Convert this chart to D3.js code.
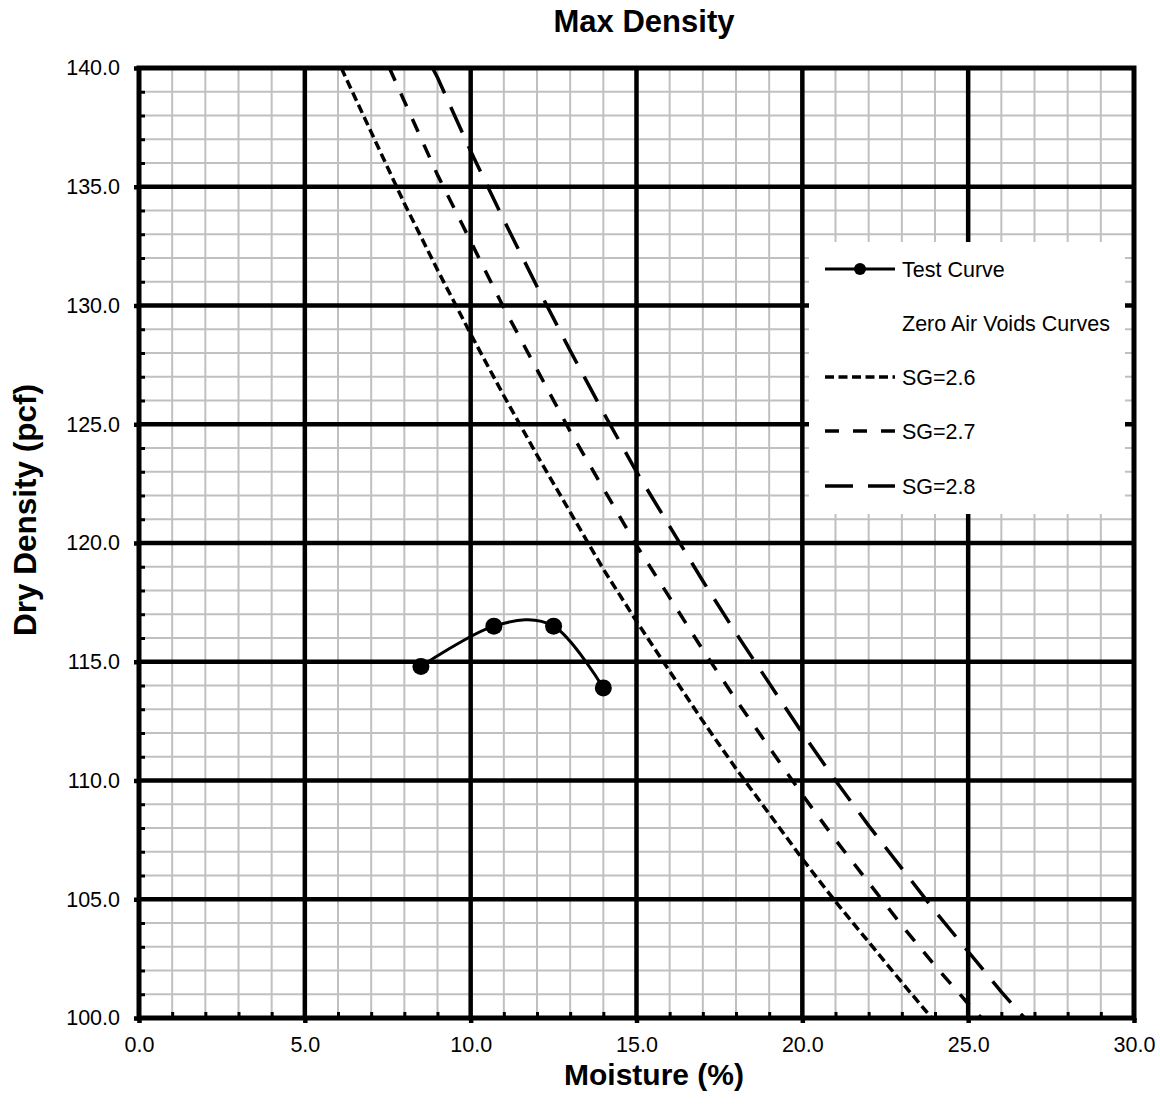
<!DOCTYPE html>
<html>
<head>
<meta charset="utf-8">
<script src="https://cdn.jsdelivr.net/npm/d3@7"></script>
<style>
  html, body { margin: 0; padding: 0; background: #fff; }
  svg { display: block; font-family: "Liberation Sans", Arial, sans-serif; }
</style>
</head>
<body>
<svg id="chart" width="1160" height="1109"></svg>
<script>
// Axis ticks
const xMajorTicks = [0, 5, 10, 15, 20, 25, 30];
const yMajorTicks = [100, 105, 110, 115, 120, 125, 130, 135, 140];

// Compaction test points (moisture %, dry density pcf)
const testMoisture = [8.5, 10.7, 12.5, 14.0];
const testDensity  = [114.8, 116.5, 116.5, 113.9];

// Zero air voids curves
const sg26Moisture = [6.1, 7, 8, 9, 10, 11, 12, 13, 14, 15, 16, 17, 18, 19, 20, 21, 22, 23, 23.9];
const sg26Density  = [140.0, 137.3, 134.3, 131.5, 128.8, 126.2, 123.7, 121.3, 118.9, 116.7, 114.6, 112.5, 110.5, 108.6, 106.7, 104.9, 103.2, 101.5, 100.0];

const sg27Moisture = [7.55, 8, 9, 10, 11, 12, 13, 14, 15, 16, 17, 18, 19, 20, 21, 22, 23, 24, 25, 25.4];
const sg27Density  = [140.0, 138.6, 135.5, 132.7, 129.9, 127.3, 124.7, 122.3, 119.9, 117.7, 115.5, 113.4, 111.4, 109.4, 107.5, 105.7, 103.9, 102.2, 100.6, 100.0];

const sg28Moisture = [8.85, 9, 10, 11, 12, 13, 14, 15, 16, 17, 18, 19, 20, 21, 22, 23, 24, 25, 26, 26.7];
const sg28Density  = [140.0, 139.6, 136.5, 133.6, 130.8, 128.1, 125.5, 123.0, 120.7, 118.4, 116.2, 114.1, 112.0, 110.0, 108.1, 106.3, 104.5, 102.8, 101.1, 100.0];

const legendLabels = ["Test Curve", "Zero Air Voids Curves", "SG=2.6", "SG=2.7", "SG=2.8"];

const zip = (xs, ys) => xs.map((v, i) => [v, ys[i]]);

const svg = d3.select("#chart");
const plotLeft = 139, plotRight = 1134, plotTop = 68, plotBottom = 1018;

const x = d3.scaleLinear().domain([0, 30]).range([plotLeft, plotRight]);
const y = d3.scaleLinear().domain([100, 140]).range([plotBottom, plotTop]);

const xMinor = d3.range(0, 31, 1).filter(v => v % 5 !== 0);
const yMinor = d3.range(100, 141, 1).filter(v => v % 5 !== 0);

svg.append("defs").append("clipPath").attr("id", "plot-clip")
  .append("rect").attr("x", plotLeft).attr("y", plotTop)
  .attr("width", plotRight - plotLeft).attr("height", plotBottom - plotTop);

// Minor grid
const grid = svg.append("g");
grid.selectAll(".vminor").data(xMinor).join("line")
  .attr("x1", d => x(d)).attr("x2", d => x(d))
  .attr("y1", plotTop).attr("y2", plotBottom)
  .attr("stroke", "#c0c0c0").attr("stroke-width", 2);
grid.selectAll(".hminor").data(yMinor).join("line")
  .attr("y1", d => y(d)).attr("y2", d => y(d))
  .attr("x1", plotLeft).attr("x2", plotRight)
  .attr("stroke", "#c0c0c0").attr("stroke-width", 2);

// Major grid
grid.selectAll(".vmajor").data(xMajorTicks.slice(1, -1)).join("line")
  .attr("x1", d => x(d)).attr("x2", d => x(d))
  .attr("y1", plotTop).attr("y2", plotBottom)
  .attr("stroke", "#000").attr("stroke-width", 4.5);
grid.selectAll(".hmajor").data(yMajorTicks.slice(1, -1)).join("line")
  .attr("y1", d => y(d)).attr("y2", d => y(d))
  .attr("x1", plotLeft).attr("x2", plotRight)
  .attr("stroke", "#000").attr("stroke-width", 4.5);

// Legend background hides the grid beneath it
const lg = { x: 809, y: 242, w: 316, h: 272 };
svg.append("rect").attr("x", lg.x).attr("y", lg.y)
  .attr("width", lg.w).attr("height", lg.h).attr("fill", "#fff");

// Plot frame
svg.append("rect").attr("x", plotLeft).attr("y", plotTop)
  .attr("width", plotRight - plotLeft).attr("height", plotBottom - plotTop)
  .attr("fill", "none").attr("stroke", "#000").attr("stroke-width", 5);

// Axes
const fmt = d3.format(".1f");
const xAxis = svg.append("g").attr("transform", `translate(0,${plotBottom})`)
  .call(d3.axisBottom(x).tickValues(xMajorTicks).tickFormat(fmt).tickSize(5).tickPadding(14));
const yAxis = svg.append("g").attr("transform", `translate(${plotLeft},0)`)
  .call(d3.axisLeft(y).tickValues(yMajorTicks).tickFormat(fmt).tickSize(5).tickPadding(14));
[xAxis, yAxis].forEach(g => {
  g.select(".domain").remove();
  g.selectAll(".tick line").attr("stroke", "#000").attr("stroke-width", 4.5);
  g.selectAll(".tick text").attr("font-size", 21.5).attr("fill", "#000")
    .attr("font-family", "'Liberation Sans', Arial, sans-serif");
});

// Minor inner ticks
const xMinorAxis = svg.append("g").attr("transform", `translate(0,${plotBottom})`)
  .call(d3.axisBottom(x).tickValues(xMinor).tickFormat("").tickSize(-6));
const yMinorAxis = svg.append("g").attr("transform", `translate(${plotLeft},0)`)
  .call(d3.axisLeft(y).tickValues(yMinor).tickFormat("").tickSize(-6));
[xMinorAxis, yMinorAxis].forEach(g => {
  g.select(".domain").remove();
  g.selectAll(".tick line").attr("stroke", "#000").attr("stroke-width", 3);
});

// Zero air voids curves
const line = d3.line().x(d => x(d[0])).y(d => y(d[1]));
const zav = [
  { pts: zip(sg26Moisture, sg26Density), dash: "9,4.5" },
  { pts: zip(sg27Moisture, sg27Density), dash: "14,14" },
  { pts: zip(sg28Moisture, sg28Density), dash: "28,15" }
];
const data = svg.append("g").attr("clip-path", "url(#plot-clip)");
data.selectAll(".zav").data(zav).join("path")
  .attr("d", d => line(d.pts))
  .attr("fill", "none").attr("stroke", "#000")
  .attr("stroke-width", 3.5).attr("stroke-dasharray", d => d.dash);

// Test curve
const testPts = zip(testMoisture, testDensity);
data.append("path")
  .attr("d", d3.line().x(d => x(d[0])).y(d => y(d[1])).curve(d3.curveCardinal.tension(0))(testPts))
  .attr("fill", "none").attr("stroke", "#000").attr("stroke-width", 3);
data.selectAll(".pt").data(testPts).join("circle")
  .attr("cx", d => x(d[0])).attr("cy", d => y(d[1])).attr("r", 8.5).attr("fill", "#000");

// Legend
const legendRows = [269, 323, 377, 431, 486];
const lgItems = svg.append("g");
const sampleX1 = 825, sampleX2 = 895, textX = 902;
lgItems.append("line").attr("x1", sampleX1).attr("x2", sampleX2)
  .attr("y1", legendRows[0]).attr("y2", legendRows[0])
  .attr("stroke", "#000").attr("stroke-width", 3);
lgItems.append("circle").attr("cx", (sampleX1 + sampleX2) / 2).attr("cy", legendRows[0])
  .attr("r", 6).attr("fill", "#000");
zav.forEach((z, i) => {
  lgItems.append("line").attr("x1", sampleX1).attr("x2", sampleX2)
    .attr("y1", legendRows[i + 2]).attr("y2", legendRows[i + 2])
    .attr("stroke", "#000").attr("stroke-width", 3.5).attr("stroke-dasharray", z.dash);
});
lgItems.selectAll("text").data(legendLabels).join("text")
  .attr("x", textX).attr("y", (d, i) => legendRows[i])
  .attr("dy", "0.35em").attr("font-size", 21.5).text(d => d);

// Titles
svg.append("text").attr("x", 644).attr("y", 32).attr("text-anchor", "middle")
  .attr("font-size", 31).attr("font-weight", "bold").text("Max Density");
svg.append("text").attr("x", 654).attr("y", 1085).attr("text-anchor", "middle")
  .attr("font-size", 30).attr("font-weight", "bold").text("Moisture (%)");
svg.append("text").attr("transform", "translate(36,510) rotate(-90)")
  .attr("text-anchor", "middle").attr("font-size", 31.5).attr("font-weight", "bold")
  .text("Dry Density (pcf)");
</script>
</body>
</html>
